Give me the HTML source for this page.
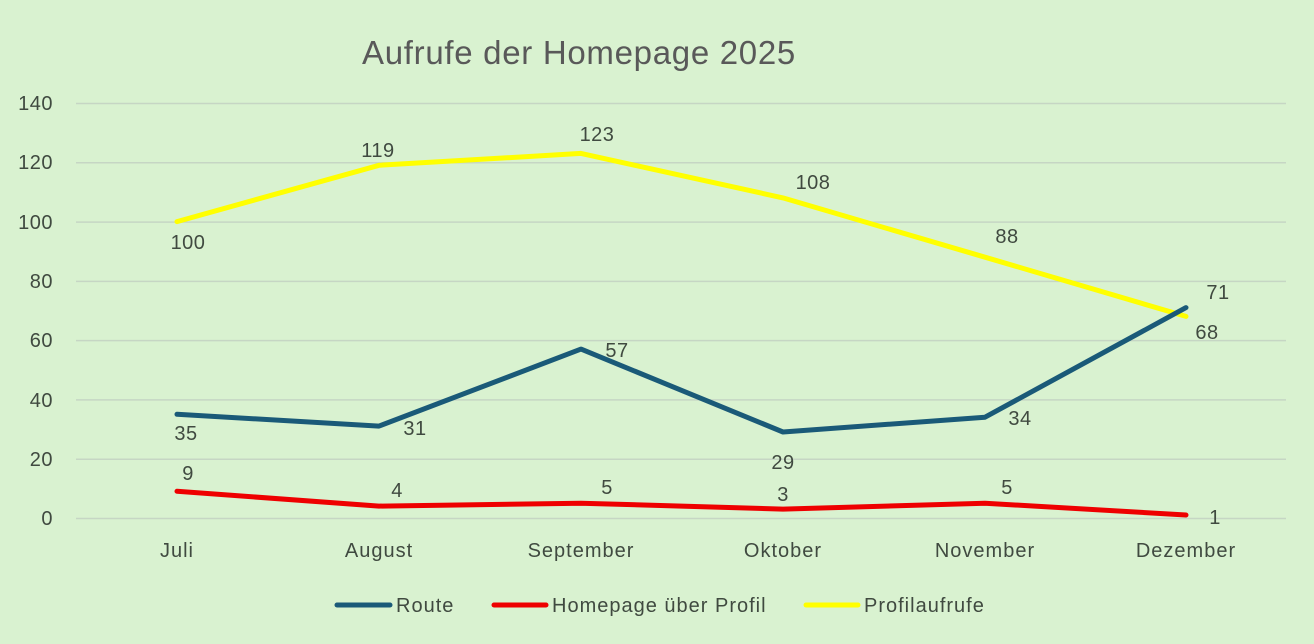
<!DOCTYPE html>
<html><head><meta charset="utf-8"><style>
body{margin:0;background:#d9f2d0;}
svg{display:block}
text{font-family:"Liberation Sans",sans-serif;fill:#404a40}
</style></head><body>
<svg width="1314" height="644" viewBox="0 0 1314 644">
<rect width="1314" height="644" fill="#d9f2d0"/>
<text x="579" y="64" font-size="33" letter-spacing="0.7" text-anchor="middle" style="fill:#595959">Aufrufe der Homepage 2025</text>
<g stroke="#c6d6c4" stroke-width="1.5">
<line x1="76" x2="1286" y1="103.5" y2="103.5"/>
<line x1="76" x2="1286" y1="162.8" y2="162.8"/>
<line x1="76" x2="1286" y1="222.1" y2="222.1"/>
<line x1="76" x2="1286" y1="281.4" y2="281.4"/>
<line x1="76" x2="1286" y1="340.6" y2="340.6"/>
<line x1="76" x2="1286" y1="399.9" y2="399.9"/>
<line x1="76" x2="1286" y1="459.2" y2="459.2"/>
<line x1="76" x2="1286" y1="518.5" y2="518.5"/>
</g>
<g font-size="20" letter-spacing="0.5" text-anchor="end">
<text x="53" y="110">140</text><text x="53" y="169">120</text><text x="53" y="229">100</text>
<text x="53" y="288">80</text><text x="53" y="347">60</text><text x="53" y="407">40</text>
<text x="53" y="466">20</text><text x="53" y="525">0</text>
</g>
<g font-size="20" letter-spacing="1" text-anchor="middle">
<text x="177" y="557">Juli</text><text x="379" y="557">August</text><text x="581" y="557">September</text>
<text x="783" y="557">Oktober</text><text x="985" y="557">November</text><text x="1186" y="557">Dezember</text>
</g>
<g fill="none" stroke-width="5" stroke-linejoin="round" stroke-linecap="round">
<polyline stroke="#ffff00" points="177,221.6 379,165.3 581,153.4 783,197.9 985,257.2 1186,316.4"/>
<polyline stroke="#1a5a78" points="177,414.3 379,426.1 581,349.1 783,432 985,417.2 1186,307.6"/>
<polyline stroke="#ee0000" points="177,491.3 379,506.1 581,503.2 783,509.1 985,503.2 1186,515"/>
</g>
<g font-size="20" letter-spacing="0.5" text-anchor="middle">
<text x="188" y="249">100</text><text x="378" y="157">119</text><text x="597" y="141">123</text>
<text x="813" y="189">108</text><text x="1007" y="243">88</text><text x="1207" y="339">68</text>
<text x="186" y="440">35</text><text x="415" y="435">31</text><text x="617" y="357">57</text>
<text x="783" y="469">29</text><text x="1020" y="425">34</text><text x="1218" y="299">71</text>
<text x="188" y="480">9</text><text x="397" y="497">4</text><text x="607" y="494">5</text>
<text x="783" y="501">3</text><text x="1007" y="494">5</text><text x="1215" y="524">1</text>
</g>
<g stroke-width="5" stroke-linecap="round">
<line x1="337" x2="390" y1="605" y2="605" stroke="#1a5a78"/>
<line x1="494" x2="546" y1="605" y2="605" stroke="#ee0000"/>
<line x1="806" x2="858" y1="605" y2="605" stroke="#ffff00"/>
</g>
<g font-size="20" letter-spacing="1">
<text x="396" y="612">Route</text>
<text x="552" y="612">Homepage über Profil</text>
<text x="864" y="612">Profilaufrufe</text>
</g>
</svg>
</body></html>
